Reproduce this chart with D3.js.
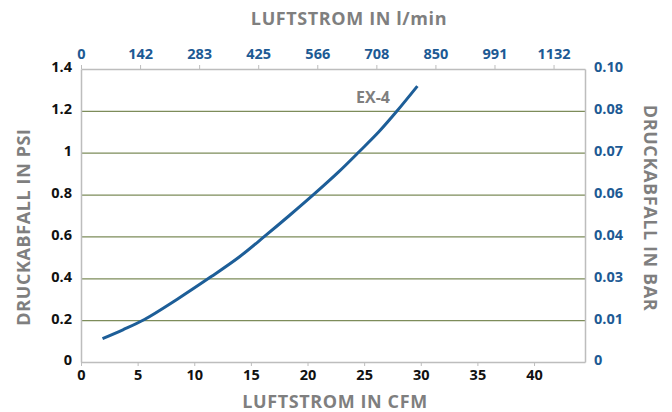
<!DOCTYPE html>
<html>
<head>
<meta charset="utf-8">
<script src="https://cdn.jsdelivr.net/npm/d3@7"></script>
<style>
  body { margin: 0; background: #fff; }
  svg text { font-family: "Open Sans", "Lato", sans-serif; font-weight: bold; }
</style>
</head>
<body>
<div id="chart"></div>
<script>
// curve EX-4 : flow in CFM vs pressure drop in PSI
var cfm = [1.9, 3.7, 5.6, 8.5, 11.5, 14.0, 16.2, 18.4, 20.7, 22.7, 24.6, 26.3, 27.9, 29.7];
var psi = [0.112, 0.154, 0.203, 0.300, 0.408, 0.503, 0.600, 0.700, 0.808, 0.906, 1.007, 1.100, 1.199, 1.318];
var seriesName = 'EX-4';

var xTicks = [0, 5, 10, 15, 20, 25, 30, 35, 40];
var yTicks = [0, 0.2, 0.4, 0.6, 0.8, 1, 1.2, 1.4];
var topLabels = ['0', '142', '283', '425', '566', '708', '850', '991', '1132'];
var rightLabels = ['0', '0.01', '0.03', '0.04', '0.06', '0.07', '0.08', '0.10'];

var W = 672, H = 412;
var mLeft = 81, mRight = 585, mTop = 69, mBottom = 362;

var svg = d3.select('#chart').append('svg').attr('width', W).attr('height', H);

var x = d3.scaleLinear().domain([0, 44.5]).range([mLeft, mRight]);
var xTop = d3.scaleLinear().domain([0, 1208]).range([mLeft, mRight]);
var y = d3.scaleLinear().domain([0, 1.4]).range([mBottom, mTop]);

// grid lines
svg.append('g')
  .attr('transform', `translate(${mLeft},0)`)
  .call(d3.axisLeft(y).tickValues(yTicks.slice(1, -1)).tickSize(-(mRight - mLeft)).tickFormat(''))
  .call(g => g.select('.domain').remove())
  .call(g => g.selectAll('line').attr('stroke', '#7d8c5a').attr('stroke-width', 1.2));

var frame = '#bdbdbd';

// bottom axis
svg.append('g')
  .attr('transform', `translate(0,${mBottom})`)
  .call(d3.axisBottom(x).tickValues(xTicks).tickSize(4).tickSizeOuter(0))
  .call(g => g.select('.domain').attr('stroke', frame).attr('stroke-width', 1.5))
  .call(g => g.selectAll('line').attr('stroke', frame))
  .call(g => g.selectAll('text').attr('fill', '#111').attr('font-size', 14.5).attr('y', 8));

// top axis
svg.append('g')
  .attr('transform', `translate(0,${mTop})`)
  .call(d3.axisTop(xTop).tickValues(topLabels.map((d, i) => i * 141.58)).tickSize(4).tickSizeOuter(0)
    .tickFormat((d, i) => topLabels[i]))
  .call(g => g.select('.domain').attr('stroke', frame).attr('stroke-width', 1.5))
  .call(g => g.selectAll('line').attr('stroke', frame))
  .call(g => g.selectAll('text').attr('fill', '#1d5a94').attr('font-size', 14.5).attr('y', -10));

// left axis
svg.append('g')
  .attr('transform', `translate(${mLeft},0)`)
  .call(d3.axisLeft(y).tickValues(yTicks).tickSize(0).tickPadding(9).tickFormat(d3.format('')))
  .call(g => g.select('.domain').attr('stroke', frame).attr('stroke-width', 1.5))
  .call(g => g.selectAll('text').attr('fill', '#111').attr('font-size', 14.5).attr('dy', '0.2em'));

// right axis
svg.append('g')
  .attr('transform', `translate(${mRight},0)`)
  .call(d3.axisRight(y).tickValues(yTicks).tickSize(0).tickPadding(9).tickFormat((d, i) => rightLabels[i]))
  .call(g => g.select('.domain').attr('stroke', frame).attr('stroke-width', 1.5))
  .call(g => g.selectAll('text').attr('fill', '#1d5a94').attr('font-size', 14.5).attr('dy', '0.2em'));

// curve
var line = d3.line()
  .x((d, i) => x(cfm[i]))
  .y((d, i) => y(psi[i]))
  .curve(d3.curveCatmullRom);

svg.append('path')
  .datum(psi)
  .attr('d', line)
  .attr('fill', 'none')
  .attr('stroke', '#1d5e98')
  .attr('stroke-width', 3);

svg.append('text')
  .attr('x', 373).attr('y', 103)
  .attr('text-anchor', 'middle')
  .attr('font-size', 16)
  .attr('fill', '#7f7f7f')
  .text(seriesName);

// axis titles
var gray = '#7f7f7f';
svg.append('text').attr('x', 349).attr('y', 25).attr('text-anchor', 'middle').attr('letter-spacing', 0.6)
  .attr('font-size', 18).attr('fill', gray).text('LUFTSTROM IN l/min');
svg.append('text').attr('x', 335).attr('y', 408).attr('text-anchor', 'middle').attr('letter-spacing', 0.6)
  .attr('font-size', 18).attr('fill', gray).text('LUFTSTROM IN CFM');
svg.append('text').attr('transform', 'translate(30,227) rotate(-90)').attr('text-anchor', 'middle').attr('letter-spacing', 0.6)
  .attr('font-size', 18).attr('fill', gray).text('DRUCKABFALL IN PSI');
svg.append('text').attr('transform', 'translate(644,208) rotate(90)').attr('text-anchor', 'middle').attr('letter-spacing', 0.6)
  .attr('font-size', 18).attr('fill', gray).text('DRUCKABFALL IN BAR');
</script>
</body>
</html>
